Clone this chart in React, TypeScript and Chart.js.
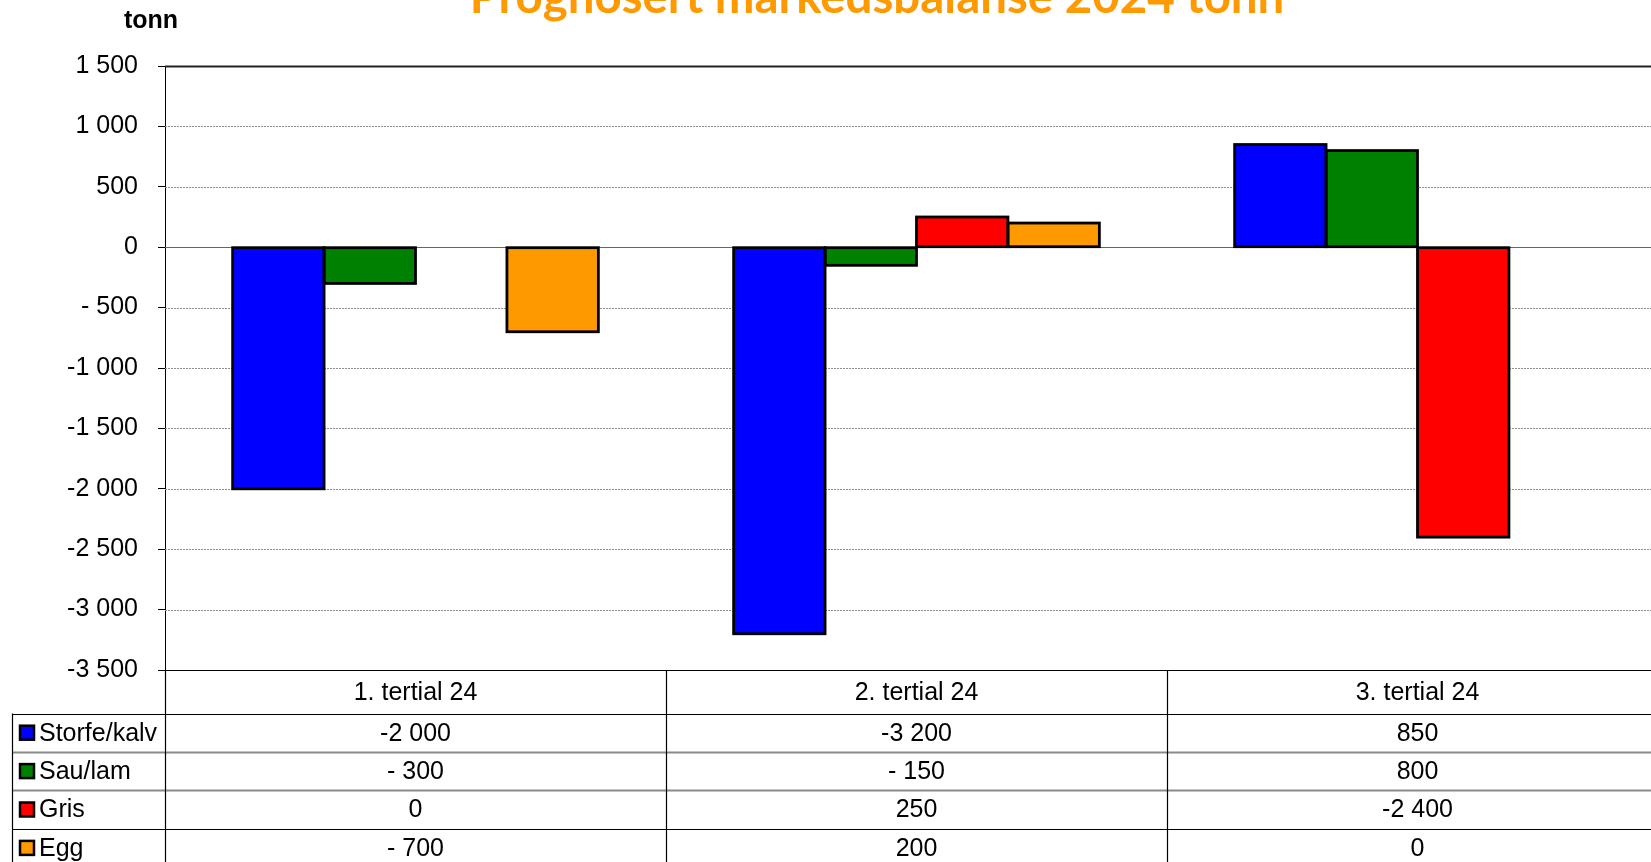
import React, { useEffect, useRef } from "react";
import { Chart, registerables } from "chart.js";

Chart.register(...registerables);

const categories = ["1. tertial 24", "2. tertial 24", "3. tertial 24"];
const seriesNames = ["Storfe/kalv", "Sau/lam", "Gris", "Egg"];
const storfeKalv = [-2000, -3200, 850];
const sauLam = [-300, -150, 800];
const gris = [0, 250, -2400];
const egg = [-700, 200, 0];
const seriesColors = ["#0000FF", "#008000", "#FF0000", "#FF9900"];
const yMinValue = -3500;
const yMaxValue = 1500;
const yStep = 500;
const titleText = "Prognosert markedsbalanse 2024 tonn";
const unitText = "tonn";

const FONT = "'Liberation Sans', Arial, sans-serif";

const fmt = (v: number): string => {
  const a = Math.abs(v);
  const th = Math.floor(a / 1000);
  const rest = a % 1000;
  let s = th > 0 ? `${th} ${String(rest).padStart(3, "0")}` : `${rest}`;
  if (v < 0) s = (th > 0 ? "-" : "- ") + s;
  return s;
};

const CANVAS_W = 1700;
const CANVAS_H = 862;

const decorPlugin = {
  id: "decor",
  beforeDatasetsDraw(chart: any) {
    const { ctx, chartArea: ca, scales } = chart;
    const y = scales.y;
    ctx.save();
    for (let v = yMinValue; v <= yMaxValue; v += yStep) {
      const py = Math.round(y.getPixelForValue(v)) + 0.5;
      ctx.beginPath();
      if (v === yMinValue) {
        continue;
      } else if (v === yMaxValue) {
        ctx.setLineDash([]);
        ctx.strokeStyle = "#222";
        ctx.lineWidth = 2;
      } else if (v === 0) {
        ctx.setLineDash([]);
        ctx.strokeStyle = "#666";
        ctx.lineWidth = 1;
      } else {
        ctx.setLineDash([2, 1]);
        ctx.strokeStyle = "#8f8f8f";
        ctx.lineWidth = 1;
      }
      ctx.moveTo(ca.left, py);
      ctx.lineTo(chart.width, py);
      ctx.stroke();
    }
    ctx.restore();
  },
  afterDatasetsDraw(chart: any) {
    const { ctx } = chart;
    ctx.save();
    ctx.strokeStyle = "#000";
    ctx.lineWidth = 2.8;
    ctx.lineJoin = "miter";
    chart.data.datasets.forEach((ds: any, di: number) => {
      const meta = chart.getDatasetMeta(di);
      meta.data.forEach((el: any, i: number) => {
        if (ds.data[i] === 0) return;
        const p = el.getProps(["x", "y", "base", "width"], true);
        const top = Math.min(p.y, p.base);
        const h = Math.abs(p.base - p.y);
        ctx.strokeRect(p.x - p.width / 2, top, p.width, h);
      });
    });
    ctx.restore();
  },
  afterDraw(chart: any) {
    const { ctx, chartArea: ca, scales } = chart;
    const x = scales.x;
    const y = scales.y;
    const W = chart.width;
    const H = chart.height;
    const yMin = Math.round(y.getPixelForValue(yMinValue)) + 0.5;
    const catW = x.getPixelForValue(1) - x.getPixelForValue(0);
    const headerH = 43;
    const rowH = 38.4;
    const rowTops = seriesNames.map((_, i) => yMin + headerH + i * rowH);

    ctx.save();
    ctx.setLineDash([]);

    // table top (= bottom axis line)
    ctx.strokeStyle = "#000";
    ctx.lineWidth = 1.2;
    ctx.beginPath();
    ctx.moveTo(ca.left - 7, yMin);
    ctx.lineTo(W, yMin);
    ctx.stroke();

    // horizontal row lines
    rowTops.forEach((ry, i) => {
      const py = Math.round(ry) + 0.5;
      ctx.beginPath();
      if (i === 1 || i === 2) {
        ctx.strokeStyle = "#8a8a8a";
        ctx.lineWidth = 2;
      } else {
        ctx.strokeStyle = "#000";
        ctx.lineWidth = 1.2;
      }
      ctx.moveTo(12, py);
      ctx.lineTo(W, py);
      ctx.stroke();
    });

    // vertical lines
    ctx.strokeStyle = "#000";
    ctx.lineWidth = 1.2;
    ctx.beginPath();
    ctx.moveTo(12.5, rowTops[0]);
    ctx.lineTo(12.5, H);
    ctx.moveTo(Math.round(ca.left) + 0.5, ca.bottom);
    ctx.lineTo(Math.round(ca.left) + 0.5, H);
    for (let i = 0; i < categories.length; i++) {
      const bx = Math.round(x.getPixelForValue(i) + catW / 2) + 0.5;
      ctx.moveTo(bx, yMin);
      ctx.lineTo(bx, H);
    }
    ctx.stroke();

    // header text
    ctx.fillStyle = "#000";
    ctx.font = `25px ${FONT}`;
    ctx.textAlign = "center";
    ctx.textBaseline = "middle";
    categories.forEach((c, i) => {
      ctx.fillText(c, x.getPixelForValue(i), yMin + headerH / 2 + 1);
    });

    // values
    const allSeries = [storfeKalv, sauLam, gris, egg];
    allSeries.forEach((vals, si) => {
      const cy = rowTops[si] + rowH / 2 + 1;
      vals.forEach((v, i) => {
        ctx.fillText(fmt(v), x.getPixelForValue(i), cy);
      });
    });

    // legend column
    ctx.textAlign = "left";
    seriesNames.forEach((n, si) => {
      const cy = rowTops[si] + rowH / 2;
      ctx.fillStyle = seriesColors[si];
      ctx.fillRect(20, cy - 7, 14, 14);
      ctx.strokeStyle = "#000";
      ctx.lineWidth = 2.5;
      ctx.strokeRect(20, cy - 7, 14, 14);
      ctx.fillStyle = "#000";
      ctx.fillText(n, 39, cy + 1);
    });

    // unit label
    ctx.font = `bold 25px ${FONT}`;
    ctx.textAlign = "left";
    ctx.textBaseline = "alphabetic";
    ctx.fillText(unitText, 124, 28);

    // title
    ctx.font = `bold 100px Lato, 'Open Sans', sans-serif`;
    const w100 = ctx.measureText(titleText).width;
    const size = (100 * 815) / w100;
    ctx.font = `bold ${size}px Lato, 'Open Sans', sans-serif`;
    ctx.fillStyle = "#FF9900";
    ctx.textAlign = "center";
    ctx.fillText(titleText, 877, 13);

    ctx.restore();
  },
};

export default function App() {
  const ref = useRef<HTMLCanvasElement | null>(null);

  useEffect(() => {
    document.body.style.margin = "0";
    document.body.style.overflow = "hidden";
    if (!ref.current) return;
    const datasetsData = [storfeKalv, sauLam, gris, egg];
    const chart = new Chart(ref.current, {
      type: "bar",
      data: {
        labels: categories,
        datasets: datasetsData.map((d, i) => ({
          label: seriesNames[i],
          data: d,
          backgroundColor: seriesColors[i],
          borderWidth: 0,
          inflateAmount: 0,
          barPercentage: 1,
          categoryPercentage: 0.73,
        })),
      },
      options: {
        responsive: false,
        animation: false,
        devicePixelRatio: 1,
        layout: { padding: { top: 66, bottom: CANVAS_H - 670, left: 0, right: 32 } },
        plugins: {
          legend: { display: false },
          title: { display: false },
          tooltip: { enabled: false },
        },
        scales: {
          x: {
            type: "category",
            display: false,
            offset: true,
          },
          y: {
            min: yMinValue,
            max: yMaxValue,
            afterFit: (s: any) => {
              s.width = 165;
            },
            ticks: {
              stepSize: yStep,
              padding: 20,
              color: "#000",
              font: { family: FONT, size: 25 },
              callback: (v: any) => fmt(Number(v)),
            },
            grid: {
              display: true,
              drawOnChartArea: false,
              drawTicks: true,
              tickLength: 7,
              color: "#000",
              tickColor: "#000",
            },
            border: { display: true, color: "#000", width: 1 },
          },
        },
      },
      plugins: [decorPlugin],
    } as any);
    return () => chart.destroy();
  }, []);

  return (
    <div
      style={{
        position: "fixed",
        left: 0,
        top: 0,
        width: 1651,
        height: 862,
        overflow: "hidden",
        background: "#fff",
      }}
    >
      <canvas
        ref={ref}
        width={CANVAS_W}
        height={CANVAS_H}
        style={{ width: CANVAS_W, height: CANVAS_H, display: "block" }}
      />
    </div>
  );
}
